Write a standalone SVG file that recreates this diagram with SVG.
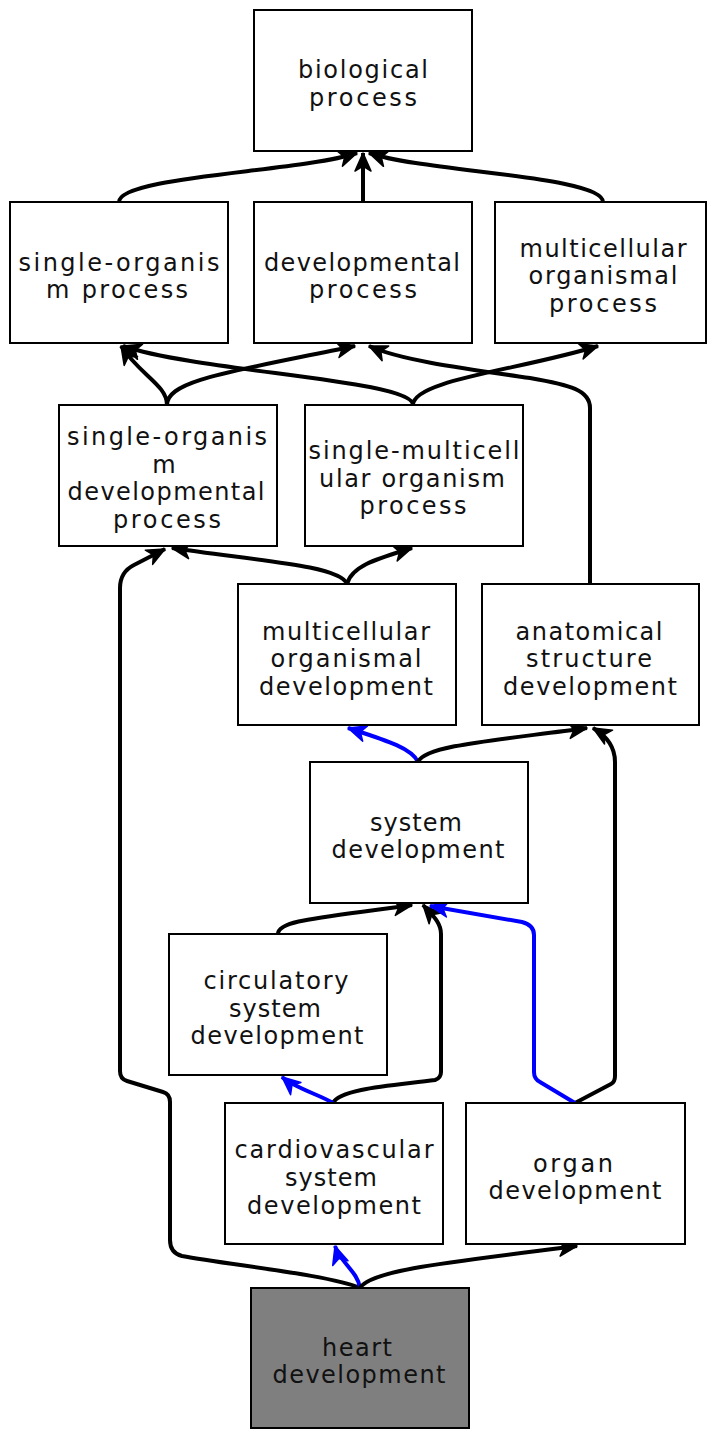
<svg xmlns="http://www.w3.org/2000/svg" width="708" height="1429" viewBox="0 0 708 1429">
<style>
.box{fill:#fff;stroke:#000;stroke-width:2}
.hl{fill:#7f7f7f;stroke:#000;stroke-width:2}
text{font-family:"DejaVu Sans","Liberation Sans",sans-serif;font-size:24px;fill:#111;text-anchor:middle}
.e{fill:none;stroke:#000;stroke-width:4;marker-end:url(#ab)}
.b{fill:none;stroke:#0000ff;stroke-width:4;marker-end:url(#au)}
marker{overflow:visible}
</style>
<defs>
<marker id="ab" markerUnits="userSpaceOnUse" markerWidth="20" markerHeight="18" viewBox="0 -9 20 18" refX="18" refY="0" orient="auto">
<path d="M0,-8 L18,0 L0,8 L5,0 Z" fill="#000" stroke="#000" stroke-width="1.5" stroke-linejoin="round"/>
</marker>
<marker id="au" markerUnits="userSpaceOnUse" markerWidth="20" markerHeight="18" viewBox="0 -9 20 18" refX="18" refY="0" orient="auto">
<path d="M0,-8 L18,0 L0,8 L5,0 Z" fill="#0000ff" stroke="#0000ff" stroke-width="1.5" stroke-linejoin="round"/>
</marker>
</defs>
<g id="connectors">
<path class="e" d="M119,202 C119,176 300,172 357,153"/>
<path class="e" d="M363,202 L363,153"/>
<path class="e" d="M603,202 C603,176 425,172 369,153"/>
<path class="e" d="M167,405 C167,385 140,375 121,346"/>
<path class="e" d="M167,405 C167,380 230,372 355,346"/>
<path class="e" d="M413,405 C413,380 200,372 123,346"/>
<path class="e" d="M413,405 C413,380 520,370 598,346"/>
<path class="e" d="M590,584 L590,408 C590,390 570,385 530,378 C460,368 400,360 369,346"/>
<path class="e" d="M347,584 C340,565 250,560 172,548"/>
<path class="e" d="M347,584 C352,565 380,558 412,548"/>
<path class="e" d="M360,1288 C330,1275 230,1265 182,1256 Q170,1253 170,1240 L170,1102 Q170,1094 163,1092 L127,1081 Q120,1079 120,1071 L120,588 Q120,572 134,565 L165,549"/>
<path class="b" d="M418,762 C412,748 385,740 348,728"/>
<path class="e" d="M418,762 C425,745 500,740 587,728"/>
<path class="e" d="M575,1103 L611,1084 Q615,1082 615,1076 L615,762 C615,745 605,735 593,728"/>
<path class="e" d="M278,934 C278,920 320,918 412,905"/>
<path class="e" d="M333,1103 C340,1088 400,1085 435,1080 Q441,1078 441,1072 L441,934 C441,922 432,915 423,905"/>
<path class="b" d="M575,1103 L540,1082 Q534,1079 534,1072 L534,935 Q534,925 522,922 L430,906"/>
<path class="b" d="M333,1103 C320,1095 295,1088 282,1077"/>
<path class="b" d="M360,1288 C358,1272 340,1262 335,1246"/>
<path class="e" d="M360,1288 C370,1270 450,1262 577,1246"/>
</g>
<g id="biological_process">
<rect class="box" x="254" y="10" width="218" height="141"/>
<text x="363" y="78" textLength="130" lengthAdjust="spacing">biological</text>
<text x="363" y="106" textLength="108" lengthAdjust="spacing">process</text>
</g>
<g id="single_organism_process">
<rect class="box" x="10" y="202" width="218" height="141"/>
<text x="119" y="271" textLength="201" lengthAdjust="spacing">single-organis</text>
<text x="117" y="298" textLength="142" lengthAdjust="spacing">m process</text>
</g>
<g id="developmental_process">
<rect class="box" x="254" y="202" width="218" height="141"/>
<text x="362" y="271" textLength="196" lengthAdjust="spacing">developmental</text>
<text x="363" y="298" textLength="108" lengthAdjust="spacing">process</text>
</g>
<g id="multicellular_organismal_process">
<rect class="box" x="495" y="202" width="211" height="141"/>
<text x="603" y="257" textLength="167" lengthAdjust="spacing">multicellular</text>
<text x="603" y="284" textLength="149" lengthAdjust="spacing">organismal</text>
<text x="603" y="312" textLength="108" lengthAdjust="spacing">process</text>
</g>
<g id="single_organism_developmental_process">
<rect class="box" x="59" y="405" width="218" height="141"/>
<text x="167" y="445" textLength="200" lengthAdjust="spacing">single-organis</text>
<text x="164" y="473">m</text>
<text x="166" y="500" textLength="197" lengthAdjust="spacing">developmental</text>
<text x="167" y="528" textLength="108" lengthAdjust="spacing">process</text>
</g>
<g id="single_multicellular_organism_process">
<rect class="box" x="305" y="405" width="218" height="141"/>
<text x="414" y="459" textLength="211" lengthAdjust="spacing">single-multicell</text>
<text x="412" y="487" textLength="186" lengthAdjust="spacing">ular organism</text>
<text x="413" y="514" textLength="107" lengthAdjust="spacing">process</text>
</g>
<g id="multicellular_organismal_development">
<rect class="box" x="238" y="584" width="218" height="141"/>
<text x="346" y="640" textLength="168" lengthAdjust="spacing">multicellular</text>
<text x="346" y="667" textLength="151" lengthAdjust="spacing">organismal</text>
<text x="346" y="695" textLength="174" lengthAdjust="spacing">development</text>
</g>
<g id="anatomical_structure_development">
<rect class="box" x="482" y="584" width="217" height="141"/>
<text x="589" y="640" textLength="147" lengthAdjust="spacing">anatomical</text>
<text x="589" y="667" textLength="126" lengthAdjust="spacing">structure</text>
<text x="590" y="695" textLength="174" lengthAdjust="spacing">development</text>
</g>
<g id="system_development">
<rect class="box" x="310" y="762" width="218" height="141"/>
<text x="416" y="831" textLength="92" lengthAdjust="spacing">system</text>
<text x="418" y="858" textLength="173" lengthAdjust="spacing">development</text>
</g>
<g id="circulatory_system_development">
<rect class="box" x="169" y="934" width="218" height="141"/>
<text x="276" y="989" textLength="145" lengthAdjust="spacing">circulatory</text>
<text x="275" y="1017" textLength="92" lengthAdjust="spacing">system</text>
<text x="277" y="1044" textLength="173" lengthAdjust="spacing">development</text>
</g>
<g id="cardiovascular_system_development">
<rect class="box" x="225" y="1103" width="218" height="141"/>
<text x="334" y="1158" textLength="199" lengthAdjust="spacing">cardiovascular</text>
<text x="331" y="1186" textLength="92" lengthAdjust="spacing">system</text>
<text x="334" y="1214" textLength="174" lengthAdjust="spacing">development</text>
</g>
<g id="organ_development">
<rect class="box" x="466" y="1103" width="219" height="141"/>
<text x="573" y="1172" textLength="80" lengthAdjust="spacing">organ</text>
<text x="575" y="1199" textLength="173" lengthAdjust="spacing">development</text>
</g>
<g id="heart_development">
<rect class="hl" x="251" y="1288" width="218" height="140"/>
<text x="357" y="1356" textLength="70" lengthAdjust="spacing">heart</text>
<text x="359" y="1383" textLength="173" lengthAdjust="spacing">development</text>
</g>
</svg>
